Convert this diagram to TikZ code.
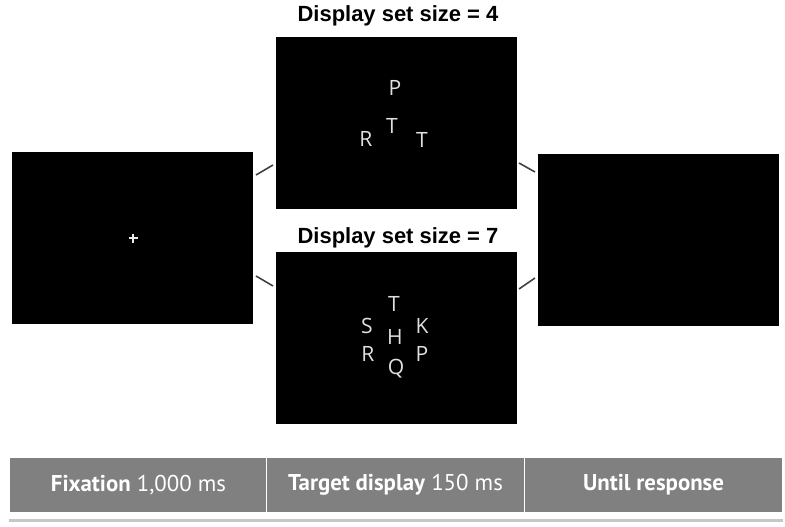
\documentclass[tikz,border=0pt]{standalone}
\usepackage{fontspec}
\setmainfont{Open Sans}
\newfontfamily\titlefont{Liberation Sans}
\newfontfamily\barfont{PT Sans}
\usepackage{tikz}
\usetikzlibrary{positioning}

\begin{document}
\begin{tikzpicture}
  [ x=0.02cm, y=-0.02cm,
    screen/.style={fill=black, draw=none, minimum width=4.82cm,
      minimum height=3.44cm, inner sep=0pt},
    lett/.style={text=white!88!black, font=\fontsize{12}{13}\selectfont, inner sep=0pt},
    ttl/.style={font=\titlefont\bfseries\fontsize{12.5}{13}\selectfont, inner sep=0pt},
    link/.style={draw=black!75, line width=0.9pt},
    cell/.style={fill=black!50, draw=white, line width=0.6pt,
      minimum width=5.16cm, minimum height=1.12cm, inner sep=0pt,
      text=white, font=\barfont\fontsize{13}{14}\selectfont}
  ]
  \useasboundingbox (0,0) rectangle (785,527);

  % screens
  \node (fix)  at (132.5,238) [screen] {};
  \node (disp4) at (396.5,123) [screen] {};
  \node (disp7) at (396.5,338) [screen] {};
  \node (resp) at (658.5,240) [screen] {};

  \node (ttl4) at (398,16)  [ttl] {Display set size = 4};
  \node (ttl7) at (398,238) [ttl] {Display set size = 7};

  % fixation cross
  \draw [white!92!black, line width=1.3pt] (128.5,238) -- (137.5,238) (133,233.5) -- (133,242.5);

  % set size 4
  \node (p4a) at (395,88)  [lett] {P};
  \node (p4b) at (392,126) [lett] {T};
  \node (p4c) at (366,139) [lett] {R};
  \node (p4d) at (422,140) [lett] {T};

  % set size 7
  \node (p7a) at (394,304) [lett] {T};
  \node (p7b) at (367,326) [lett] {S};
  \node (p7c) at (395,337) [lett] {H};
  \node (p7d) at (422,326) [lett] {K};
  \node (p7e) at (368,354) [lett] {R};
  \node (p7f) at (422,354) [lett] {P};
  \node (p7g) at (396,369) [lett] {Q};

  % short links between screens
  \coordinate (la1) at (256,175); \coordinate (la2) at (273,165);
  \coordinate (lb1) at (256,276); \coordinate (lb2) at (273,286);
  \coordinate (lc1) at (519,163); \coordinate (lc2) at (535,172);
  \coordinate (ld1) at (519,289); \coordinate (ld2) at (535,278);
  \draw [link] (la1) -- (la2);
  \draw [link] (lb1) -- (lb2);
  \draw [link] (lc1) -- (lc2);
  \draw [link] (ld1) -- (ld2);

  % time line
  \node (t1) at (138.5,485) [cell] {\textbf{Fixation} 1,000 ms};
  \node (t2) at (395.5,485) [cell] {\textbf{Target display} 150 ms};
  \node (t3) at (653.5,485) [cell] {\textbf{Until response}};
  \draw [black!22, line width=1.2pt] (t1.south west) ++(0,7) coordinate (bl)
        (bl) -- (bl -| t3.east);
\end{tikzpicture}
\end{document}
